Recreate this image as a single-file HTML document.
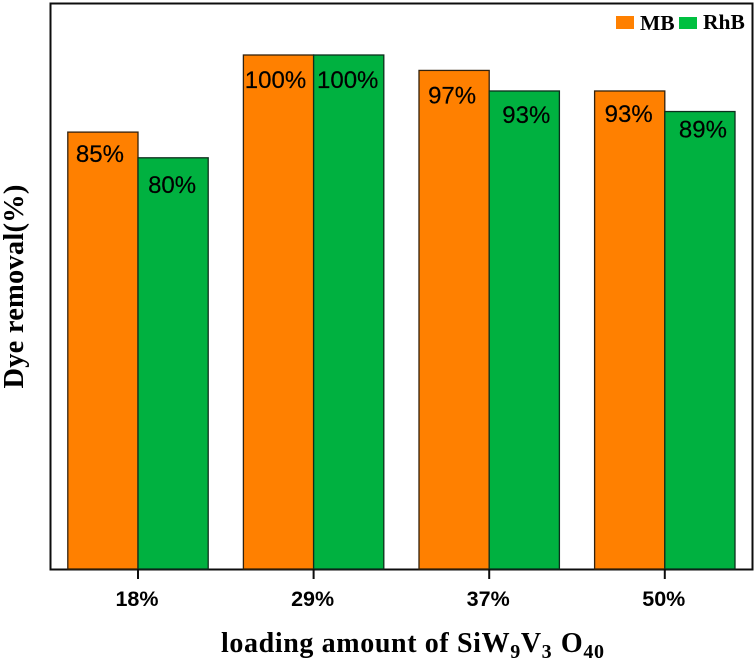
<!DOCTYPE html>
<html lang="en">
<head>
<meta charset="utf-8">
<title>Dye removal chart</title>
<style>
html,body{margin:0;padding:0;background:#fff;}
body{width:756px;height:663px;overflow:hidden;}
svg{display:block;}
.val{font-family:"Liberation Sans",Arial,sans-serif;font-size:24px;fill:#000;stroke:#000;stroke-width:0.2;text-anchor:middle;}
.tick{font-family:"Liberation Sans",Arial,sans-serif;font-size:21.5px;font-weight:bold;fill:#000;text-anchor:middle;}
.serif{font-family:"Liberation Serif","Times New Roman",serif;font-weight:bold;fill:#000;}
</style>
</head>
<body>
<svg id="chart" xmlns="http://www.w3.org/2000/svg" width="756" height="663" viewBox="0 0 756 663">
  <defs><filter id="soft" x="-5%" y="-5%" width="110%" height="110%"><feGaussianBlur stdDeviation="0.35"/></filter></defs>
  <g id="root" filter="url(#soft)">
    <rect x="50.5" y="3.5" width="702" height="566" fill="#fff" stroke="#111" stroke-width="2"/>
    <g id="bars"></g>
    <g id="ticks"></g>
    <g id="values"></g>
    <text class="serif" font-size="28.5" letter-spacing="0.2" text-anchor="middle" transform="translate(23 286.5) rotate(-90)">Dye removal(%)</text>
    <text class="serif" font-size="28" letter-spacing="0.62" x="221" y="652">loading amount of SiW<tspan font-size="20" dy="6">9</tspan><tspan dy="-6">V</tspan><tspan font-size="20" dy="6">3</tspan><tspan dx="1" dy="-6"> O</tspan><tspan font-size="20" dy="6">40</tspan></text>
    <rect x="616" y="16" width="18" height="13" fill="#ff8000"/>
    <text class="serif" font-size="21.5" x="640" y="30">MB</text>
    <rect x="679" y="17" width="18" height="12" fill="#00c040"/>
    <text class="serif" font-size="21.5" x="703" y="29">RhB</text>
  </g>
</svg>
<script>
const categories = ['18%', '29%', '37%', '50%'];
const mbValues = [85, 100, 97, 93];
const rhbValues = [80, 100, 93, 89];

const NS = 'http://www.w3.org/2000/svg';
const baseY = 569;
const pxPerPercent = 5.14;
const firstTick = 138;
const tickStep = 175.6;
const barWidth = 70.2;

function yScale(v) { return baseY - v * pxPerPercent; }
function xScale(i) { return firstTick + i * tickStep; }

function make(parent, tag, attrs) {
  const el = document.createElementNS(NS, tag);
  for (const k in attrs) el.setAttribute(k, attrs[k]);
  parent.appendChild(el);
  return el;
}

const barsG = document.getElementById('bars');
const ticksG = document.getElementById('ticks');
const valuesG = document.getElementById('values');

/* hand-placed label nudges seen in the picture: [dx, dy from bar top] */
const mbNudge = [[-3, 30], [-3, 33], [-2, 33], [-1, 31]];
const rhbNudge = [[-1, 35], [-1, 33], [2, 32], [3, 26]];

categories.forEach(function (cat, i) {
  const cx = xScale(i);

  const mbBar = make(barsG, 'rect', {x: cx - barWidth, y: yScale(mbValues[i]), width: barWidth, height: baseY - yScale(mbValues[i]), fill: '#ff8000', stroke: '#33210f', 'stroke-width': 1.3});
  
  

  const rhbBar = make(barsG, 'rect', {x: cx, y: yScale(rhbValues[i]), width: barWidth, height: baseY - yScale(rhbValues[i]), fill: '#00b140', stroke: '#0c2e1c', 'stroke-width': 1.3});
  
  

  const tick = make(ticksG, 'line', {x1: cx, x2: cx, y1: baseY, y2: baseY + 10, stroke: '#111', 'stroke-width': 2});
  
  

  const tickLabel = make(ticksG, 'text', {x: cx - 1, y: 606, class: 'tick'});
  tickLabel.textContent = cat;
  
  

  const mbLabel = make(valuesG, 'text', {x: cx - barWidth / 2 + mbNudge[i][0], y: yScale(mbValues[i]) + mbNudge[i][1], class: 'val'});
  mbLabel.textContent = mbValues[i] + '%';
  
  

  const rhbLabel = make(valuesG, 'text', {x: cx + barWidth / 2 + rhbNudge[i][0], y: yScale(rhbValues[i]) + rhbNudge[i][1], class: 'val'});
  rhbLabel.textContent = rhbValues[i] + '%';
  
  
});
</script>
</body>
</html>
